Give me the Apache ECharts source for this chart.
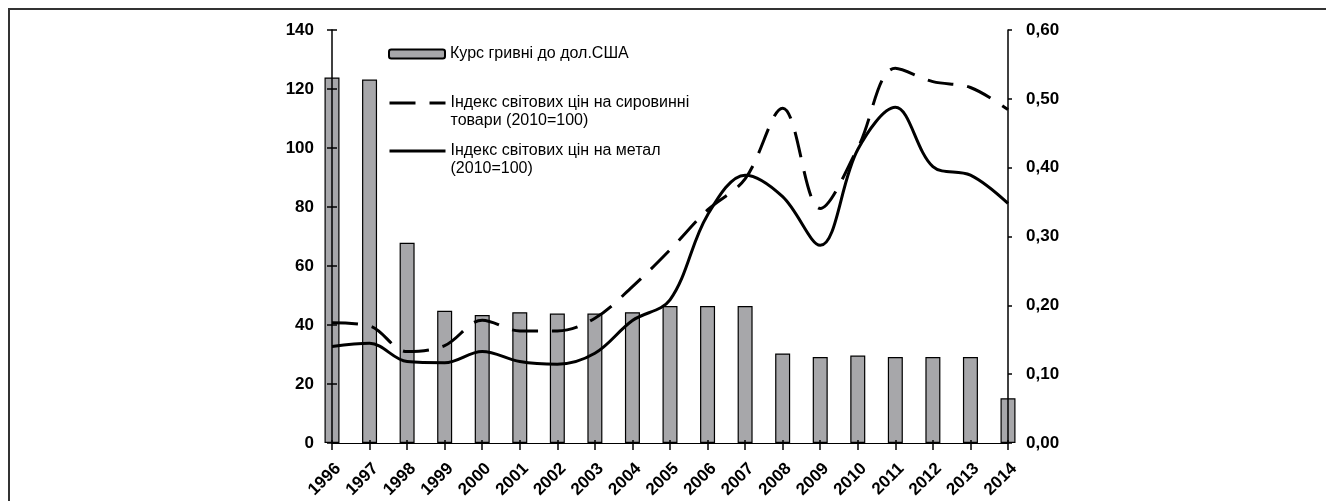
<!DOCTYPE html>
<html>
<head>
<meta charset="utf-8">
<script src="https://cdn.jsdelivr.net/npm/echarts@6/dist/echarts.min.js"></script>
<style>
  html, body { margin: 0; padding: 0; background: #fff; overflow: hidden; }
  #wrap { position: relative; width: 1326px; height: 501px; overflow: hidden; }
  #frame { position: absolute; left: 8px; top: 8px; width: 1400px; height: 600px; border: 2px solid #333; }
  #chart { position: absolute; left: 0; top: 0; width: 1326px; height: 501px; }
</style>
</head>
<body>
<div id="wrap">
  <div id="frame"></div>
  <div id="chart"></div>
</div>
<script>
// years on the category axis
const years = ['1996', '1997', '1998', '1999', '2000', '2001', '2002', '2003', '2004', '2005',
  '2006', '2007', '2008', '2009', '2010', '2011', '2012', '2013', '2014']

// hryvnia rate (right axis)
const rateUsd = [0.531, 0.528, 0.291, 0.192, 0.186, 0.19, 0.188, 0.188, 0.19, 0.199,
  0.199, 0.199, 0.130, 0.125, 0.127, 0.125, 0.125, 0.125, 0.065]

// world price indices, 2010=100 (left axis)
const rawIndex = [40.8, 39.7, 31, 33, 41.6, 38, 38, 42.3, 53, 65.5,
  79, 89.5, 113.5, 79.5, 100, 127, 122.5, 120.5, 113]
const metalIndex = [32.7, 33.8, 27.6, 27.2, 31, 27.6, 26.7, 30.4, 41.5, 48.5,
  77.3, 90.8, 83.5, 67, 99.5, 113.8, 93.7, 90.8, 81.2]

const names = [
  'Курс гривні до дол.США',
  'Індекс світових цін на сировинні\nтовари (2010=100)',
  'Індекс світових цін на метал\n(2010=100)',
]

const font = 'Liberation Sans, Arial, sans-serif'

const chart = echarts.init(document.getElementById('chart'))

// one legend per item so the icon lines up with the first text line
function legendAt(top, name) {
  const isBar = name === names[0]
  return {
    data: [name],
    left: 388,
    top: top,
    padding: 0,
    orient: 'vertical',
    itemWidth: 56,
    itemHeight: 9,
    itemGap: 0,
    selectedMode: false,
    itemStyle: isBar ? {} : { opacity: 0 },
    lineStyle: isBar ? {} : { width: 3 },
    formatter: (n) => (n.indexOf('\n') >= 0 ? '\n' + n : n),
    textStyle: { fontFamily: font, fontSize: 16, color: '#000', lineHeight: 18 },
  }
}

const option = {
  animation: false,
  grid: { left: 332, right: 318, top: 30, bottom: 58 },
  legend: [
    legendAt(45, names[0]),
    legendAt(76, names[1]),
    legendAt(124, names[2]),
  ],
  xAxis: [
    {
      type: 'category',
      data: years,
      boundaryGap: false,
      z: 5,
      axisLine: { lineStyle: { color: '#000', width: 1 } },
      axisTick: { alignWithLabel: true, length: 7, lineStyle: { color: '#000', width: 1.5 } },
      axisLabel: {
        rotate: 45,
        margin: 17,
        interval: 0,
        verticalAlign: 'top',
        fontFamily: font,
        fontWeight: 'bold',
        fontSize: 17,
        color: '#000',
      },
    },
    {
      type: 'category',
      data: years,
      boundaryGap: false,
      position: 'bottom',
      z: 5,
      axisLine: { show: false },
      axisTick: { inside: true, length: 3, lineStyle: { color: '#000', width: 1.5 } },
      axisLabel: { show: false },
    },
  ],
  yAxis: [
    {
      type: 'value',
      min: 0,
      max: 140,
      interval: 20,
      position: 'left',
      z: 5,
      splitLine: { show: false },
      axisLine: { show: true, lineStyle: { color: '#000', width: 1.5 } },
      axisTick: { show: true, length: 5, lineStyle: { color: '#000', width: 1.5 } },
      axisLabel: {
        margin: 18,
        fontFamily: font,
        fontWeight: 'bold',
        fontSize: 17,
        color: '#000',
      },
    },
    {
      type: 'value',
      min: 0,
      max: 0.6,
      interval: 0.1,
      position: 'right',
      z: 5,
      splitLine: { show: false },
      axisLine: { show: true, lineStyle: { color: '#000', width: 1.5 } },
      axisTick: { show: true, length: 4, lineStyle: { color: '#000', width: 1.5 } },
      axisLabel: {
        margin: 18,
        fontFamily: font,
        fontWeight: 'bold',
        fontSize: 17,
        color: '#000',
        formatter: (v) => v.toFixed(2).replace('.', ','),
      },
    },
    {
      type: 'value',
      min: 0,
      max: 140,
      interval: 20,
      position: 'left',
      z: 5,
      splitLine: { show: false },
      axisLine: { show: false },
      axisTick: { show: true, inside: true, length: 5, lineStyle: { color: '#000', width: 1.5 } },
      axisLabel: { show: false },
    },
  ],
  series: [
    {
      name: names[0],
      type: 'bar',
      yAxisIndex: 1,
      data: rateUsd,
      barWidth: 15,
      clip: false,
      itemStyle: { color: '#a7a7aa', borderColor: '#000', borderWidth: 1.2 },
    },
    {
      name: names[1],
      type: 'line',
      yAxisIndex: 0,
      data: rawIndex,
      smooth: 0.35,
      symbol: 'none',
      z: 3,
      lineStyle: { color: '#000', width: 3, type: [26, 14] },
      itemStyle: { color: '#000' },
    },
    {
      name: names[2],
      type: 'line',
      yAxisIndex: 0,
      data: metalIndex,
      smooth: 0.35,
      symbol: 'none',
      z: 3,
      lineStyle: { color: '#000', width: 3 },
      itemStyle: { color: '#000' },
    },
  ],
}

chart.setOption(option)
</script>
</body>
</html>
